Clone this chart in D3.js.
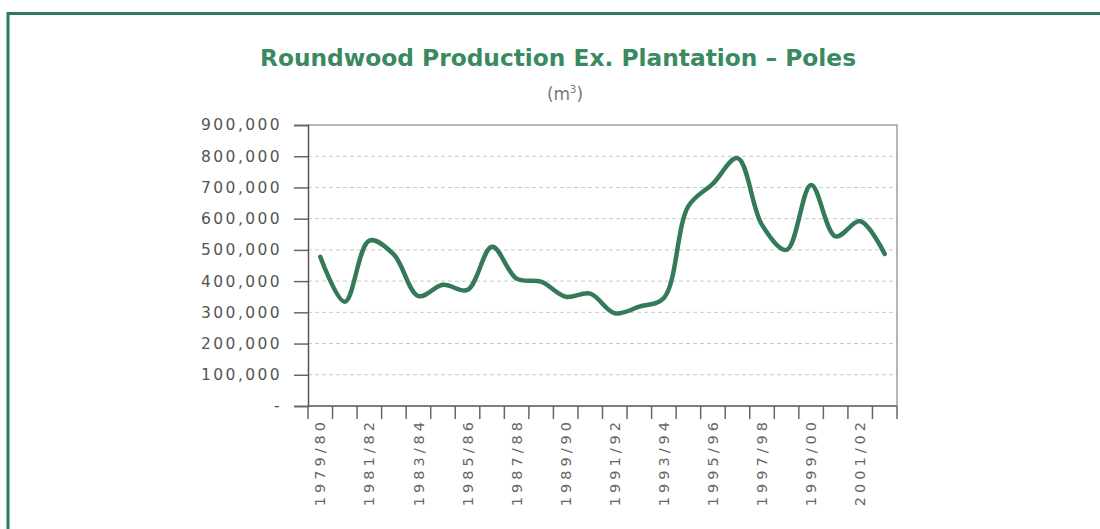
<!DOCTYPE html>
<html><head><meta charset="utf-8">
<script src="https://cdn.jsdelivr.net/npm/d3@7"></script>
<style>body{margin:0;background:#fff}svg{display:block}</style>
</head><body>
<svg id="c" width="1100" height="529"></svg>
<script>
const categories = ["1979/80","1980/81","1981/82","1982/83","1983/84","1984/85","1985/86","1986/87","1987/88","1988/89","1989/90","1990/91","1991/92","1992/93","1993/94","1994/95","1995/96","1996/97","1997/98","1998/99","1999/00","2000/01","2001/02","2002/03"];
const values = [478000,334000,530000,485000,352000,388000,372000,510000,408000,398000,350000,360000,297000,318000,346000,640000,712000,794000,580000,500000,708000,543000,592000,487000];
const yTicks = [0,100000,200000,300000,400000,500000,600000,700000,800000,900000];
const title = "Roundwood Production Ex. Plantation \u2013 Poles";

const svg = d3.select("#c");
const L=308,R=897,T=125,B=406;
const x = d3.scaleBand().domain(categories).range([L,R]);
const y = d3.scaleLinear().domain([0,900000]).range([B,T]);

// outer border
svg.append("path").attr("d",`M8,529 L8,13.5 L1100,13.5`).attr("fill","none").attr("stroke","#2e7a5c").attr("stroke-width",3);

// title
svg.append("text").attr("x",558).attr("y",66).attr("text-anchor","middle")
  .attr("font-family","DejaVu Sans").attr("font-weight","bold").attr("font-size",23.3)
  .attr("fill","#3a8a60").text(title);
const sub = svg.append("text").attr("x",565).attr("y",100).attr("text-anchor","middle")
  .attr("font-family","DejaVu Sans").attr("font-size",17).attr("fill","#777");
sub.append("tspan").text("(m");
sub.append("tspan").attr("font-size",10).attr("dy",-7).text("3");
sub.append("tspan").attr("dy",7).text(")");

// gridlines
svg.append("g").selectAll("line").data(yTicks.filter(d=>d>0&&d<900000)).join("line")
  .attr("x1",L).attr("x2",R).attr("y1",d=>y(d)).attr("y2",d=>y(d))
  .attr("stroke","#c8c8c8").attr("stroke-dasharray","4,3").attr("stroke-width",1);
// plot border top/right
svg.append("path").attr("d",`M${L},${T} L${R},${T} L${R},${B}`).attr("fill","none").attr("stroke","#a0a0a0").attr("stroke-width",1.5);

// y axis
const fmt = d3.format(",");
const ya = svg.append("g").attr("transform",`translate(${L},0)`)
  .call(d3.axisLeft(y).tickValues(yTicks).tickSize(14).tickPadding(12).tickFormat(d=>d===0?"-":fmt(d)));
ya.select(".domain").attr("stroke","#555").attr("stroke-width",1.5);
ya.selectAll(".tick line").attr("stroke","#666").attr("stroke-width",1.5);
ya.selectAll("text").attr("font-family","DejaVu Sans").attr("font-size",15.5).attr("fill","#555").attr("letter-spacing","2.4px");

// x axis
const xa = svg.append("g").attr("transform",`translate(0,${B})`);
xa.append("line").attr("x1",L).attr("x2",R).attr("stroke","#555").attr("stroke-width",1.5);
const bounds = categories.map(c=>x(c)).concat([R]);
xa.selectAll("line.t").data(bounds).join("line").attr("class","t")
  .attr("x1",d=>d).attr("x2",d=>d).attr("y1",0).attr("y2",13).attr("stroke","#666").attr("stroke-width",1.5);
xa.selectAll("text").data(categories.filter((c,i)=>i%2===0)).join("text")
  .attr("transform",d=>`translate(${x(d)+x.bandwidth()/2},12) rotate(-90)`)
  .attr("text-anchor","end").attr("dy","0.35em")
  .attr("font-family","DejaVu Sans").attr("font-size",14.5).attr("fill","#666").attr("letter-spacing","4px")
  .text(d=>d);

// line
const line = d3.line().x((d,i)=>x(categories[i])+x.bandwidth()/2).y(d=>y(d)).curve(d3.curveCatmullRom.alpha(0.5));
svg.append("path").datum(values).attr("d",line).attr("fill","none").attr("stroke","#357a58").attr("stroke-width",4.5).attr("stroke-linejoin","round").attr("stroke-linecap","round");
</script>
</body></html>
